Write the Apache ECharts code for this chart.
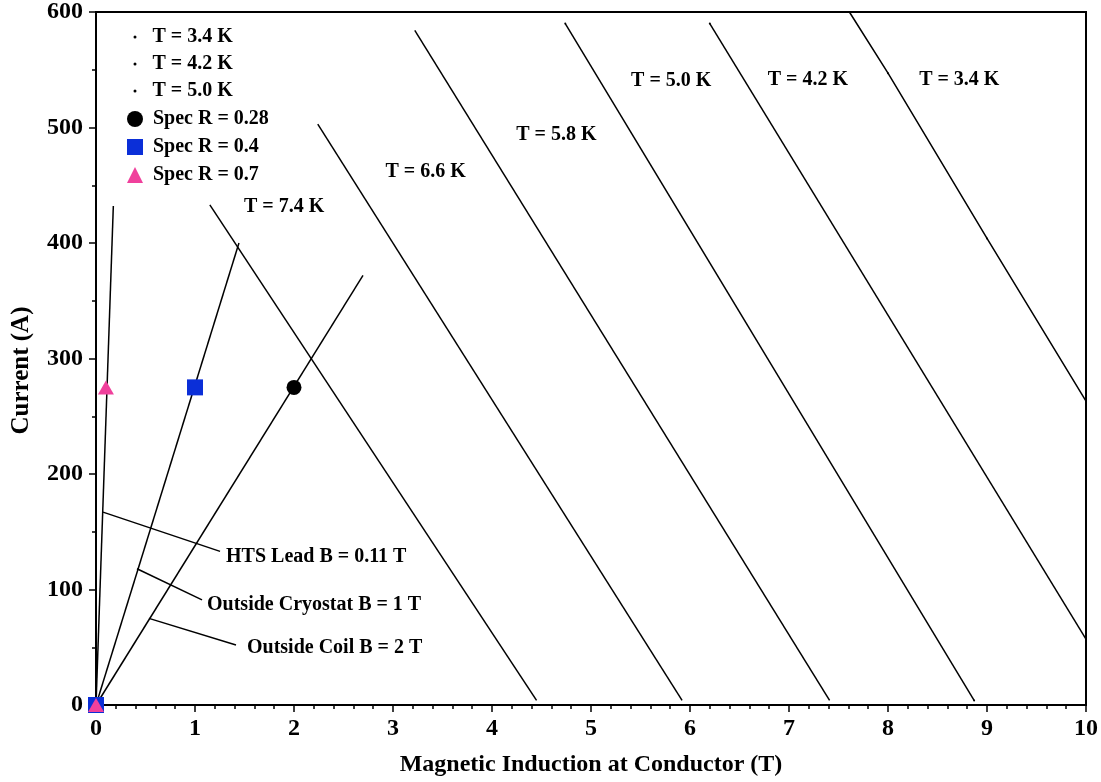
<!DOCTYPE html>
<html>
<head>
<meta charset="utf-8">
<script src="https://cdn.jsdelivr.net/npm/echarts@6/dist/echarts.min.js"></script>
<style>html,body{margin:0;padding:0;background:#fff}#c{width:1101px;height:782px}</style>
</head>
<body>
<div id="c"></div>
<script>
// Critical-current lines (B in T, I in A)
const tempNames = ['T = 3.4 K', 'T = 4.2 K', 'T = 5.0 K', 'T = 5.8 K', 'T = 6.6 K', 'T = 7.4 K'];
const t34 = [[7.61, 600], [8.0, 547], [9.0, 404], [10.0, 263]];
const t42 = [[6.20, 590], [10.0, 57]];
const t50 = [[4.74, 590], [8.87, 4]];
const t58 = [[3.22, 584], [7.41, 4]];
const t66 = [[2.24, 503], [5.92, 4]];
const t74 = [[1.15, 433], [4.45, 4]];
const tempData = [t34, t42, t50, t58, t66, t74];
const tempInLegend = [true, true, true, false, false, false];

// Load lines from the origin
const loadLead = [[0, 0], [0.175, 432]];
const loadCryostat = [[0, 0], [1.444, 400]];
const loadCoil = [[0, 0], [2.697, 372]];

// Specification points
const specNames = ['Spec R = 0.28', 'Spec R = 0.4', 'Spec R = 0.7'];
const spec028 = [[0, 0], [2.0, 275]];
const spec04 = [[0, 0], [1.0, 275]];
const spec07 = [[0, 0], [0.10, 275]];

// In-plot temperature labels [B, I]
const tempLabelText = ['T = 7.4 K', 'T = 6.6 K', 'T = 5.8 K', 'T = 5.0 K', 'T = 4.2 K', 'T = 3.4 K'];
const tempLabelPos = [[1.90, 431], [3.33, 462], [4.65, 494], [5.81, 540], [7.19, 541], [8.72, 541]];

// Callouts: leader line start/end and text
const calloutText = ['HTS Lead B = 0.11 T', 'Outside Cryostat B = 1 T', 'Outside Coil B = 2 T'];
const calloutLines = [
  [[0.071, 167], [1.253, 133]],
  [[0.414, 118], [1.071, 91]],
  [[0.535, 75], [1.414, 52]]
];

const FONT = '"Liberation Serif", "Times New Roman", serif';
const chart = echarts.init(document.getElementById('c'), null, {renderer: 'canvas'});

const series = [];
tempData.forEach((d, i) => {
  series.push({
    name: tempNames[i], type: 'line', data: d,
    symbol: tempInLegend[i] ? 'circle' : 'none', symbolSize: 2,
    showSymbol: tempInLegend[i],
    lineStyle: {color: '#000', width: 1.5}, itemStyle: {color: '#000'},
    emphasis: {disabled: true}, animation: false, clip: false, z: 2
  });
});
[loadLead, loadCryostat, loadCoil].forEach(d => {
  series.push({type: 'line', data: d, symbol: 'none',
    lineStyle: {color: '#000', width: 1.5}, animation: false, z: 2});
});
const calloutOffsets = [[6, 5], [5, 5], [11, 3]];
calloutLines.forEach((d, i) => {
  series.push({type: 'line', data: d, symbol: 'none', name: calloutText[i],
    lineStyle: {color: '#000', width: 1.5}, animation: false, z: 2,
    endLabel: {show: true, formatter: calloutText[i], distance: calloutOffsets[i][0],
      offset: [0, calloutOffsets[i][1]],
      fontFamily: FONT, fontWeight: 'bold', fontSize: 20, color: '#000'}
  });
});
const specSym = ['circle', 'rect', 'triangle'];
const specCol = ['#000000', '#0b2fd8', '#f0409c'];
const specSize = [15, 16, [16, 14]];
[spec028, spec04, spec07].forEach((d, i) => {
  series.push({name: specNames[i], type: 'scatter', data: d, symbol: specSym[i],
    symbolSize: specSize[i], itemStyle: {color: specCol[i], opacity: 1},
    animation: false, z: 4});
});
series.push({type: 'scatter', symbolSize: 0, animation: false, z: 5,
  itemStyle: {opacity: 1, color: '#000'},
  data: tempLabelPos.map((p, i) => ({value: p, label: {formatter: tempLabelText[i]}})),
  label: {show: true, position: 'inside', fontFamily: FONT, fontWeight: 'bold', fontSize: 20,
    color: '#000', opacity: 1}
});

const legendText = {fontFamily: FONT, fontWeight: 'bold', fontSize: 20, color: '#000'};
chart.setOption({
  backgroundColor: '#fff',
  animation: false,
  grid: {left: 96, right: 15, top: 10, bottom: 74, show: true, borderColor: '#000', borderWidth: 2},
  legend: [
    {data: tempNames.slice(0, 3).map(n => ({name: n, icon: 'circle'})),
      orient: 'vertical', left: 128.5, top: 22, itemWidth: 3, itemHeight: 3, itemGap: 7,
      selectedMode: false, textStyle: Object.assign({padding: [0, 0, 0, 11]}, legendText)},
    {data: specNames, orient: 'vertical', left: 122, top: 104, itemWidth: 16, itemHeight: 16, itemGap: 8,
      selectedMode: false, textStyle: Object.assign({padding: [0, 0, 0, 5]}, legendText)}
  ],
  xAxis: {
    type: 'value', min: 0, max: 10, interval: 1,
    name: 'Magnetic Induction at Conductor (T)', nameLocation: 'middle', nameGap: 48,
    nameTextStyle: {fontFamily: FONT, fontWeight: 'bold', fontSize: 24, color: '#000'},
    axisLine: {show: true, lineStyle: {color: '#000', width: 2}},
    axisTick: {show: true, length: 7, lineStyle: {color: '#000', width: 1.5}},
    minorTick: {show: true, splitNumber: 5, length: 4, lineStyle: {color: '#000', width: 1.5}},
    splitLine: {show: false},
    axisLabel: {margin: 12, fontFamily: FONT, fontWeight: 'bold', fontSize: 24, color: '#000'}
  },
  yAxis: {
    type: 'value', min: 0, max: 600, interval: 100,
    name: 'Current (A)', nameLocation: 'middle', nameGap: 62,
    nameTextStyle: {fontFamily: FONT, fontWeight: 'bold', fontSize: 25, color: '#000', padding: [0, 24, 0, 0]},
    axisLine: {show: true, lineStyle: {color: '#000', width: 2}},
    axisTick: {show: true, length: 7, lineStyle: {color: '#000', width: 1.5}},
    minorTick: {show: true, splitNumber: 2, length: 4, lineStyle: {color: '#000', width: 1.5}},
    splitLine: {show: false},
    axisLabel: {margin: 13, fontFamily: FONT, fontWeight: 'bold', fontSize: 24, color: '#000'}
  },
  series: series
});
</script>
</body>
</html>
